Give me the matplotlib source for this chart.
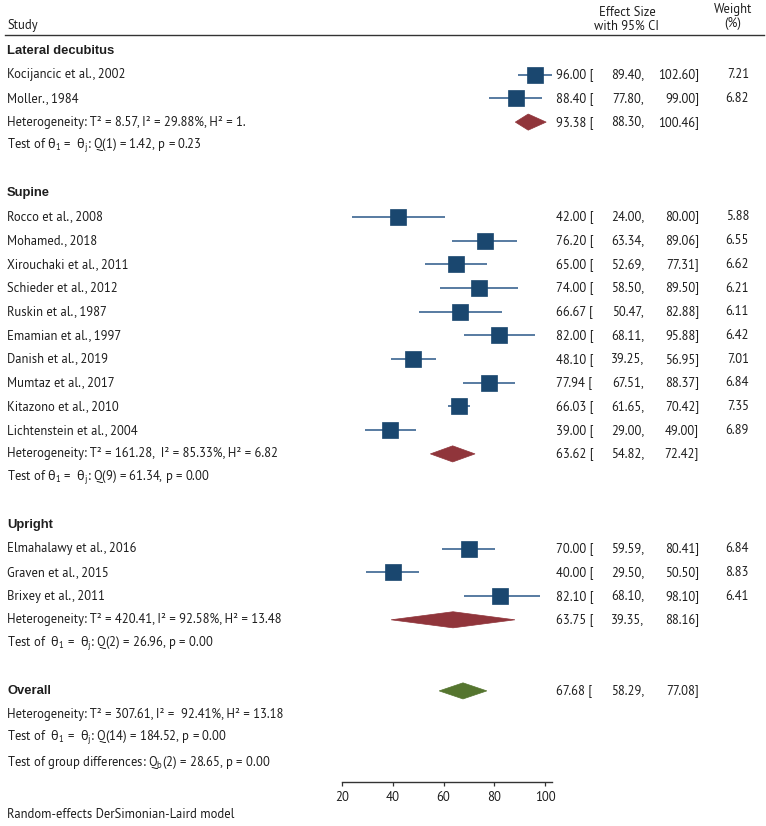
import matplotlib
matplotlib.use("Agg")
import matplotlib.pyplot as plt
from matplotlib.transforms import blended_transform_factory
from matplotlib.patches import Polygon
from matplotlib.lines import Line2D

FONT = "PT Sans"
BOLD = "Liberation Sans"
plt.rcParams['font.family'] = [FONT, 'DejaVu Sans']
plt.rcParams['mathtext.fontset'] = 'custom'
plt.rcParams['mathtext.rm'] = FONT
plt.rcParams['mathtext.it'] = FONT
plt.rcParams['mathtext.sf'] = 'Noto Sans'
plt.rcParams['mathtext.default'] = 'regular'

# ---------------- data ----------------
group_names = ["Lateral decubitus", "Supine", "Upright"]

studies = ["Kocijancic et al., 2002", "Moller., 1984",
           "Rocco et al., 2008", "Mohamed., 2018", "Xirouchaki et al., 2011",
           "Schieder et al., 2012", "Ruskin et al., 1987", "Emamian et al., 1997",
           "Danish et al., 2019", "Mumtaz et al., 2017", "Kitazono et al., 2010",
           "Lichtenstein et al., 2004",
           "Elmahalawy et al., 2016", "Graven et al., 2015", "Brixey et al., 2011"]
study_group = [0, 0, 1, 1, 1, 1, 1, 1, 1, 1, 1, 1, 2, 2, 2]
effect = [96.00, 88.40, 42.00, 76.20, 65.00, 74.00, 66.67, 82.00, 48.10, 77.94,
          66.03, 39.00, 70.00, 40.00, 82.10]
ci_low = [89.40, 77.80, 24.00, 63.34, 52.69, 58.50, 50.47, 68.11, 39.25, 67.51,
          61.65, 29.00, 59.59, 29.50, 68.10]
ci_high = [102.60, 99.00, 80.00, 89.06, 77.31, 89.50, 82.88, 95.88, 56.95, 88.37,
           70.42, 49.00, 80.41, 50.50, 98.10]
# upper CI ends as drawn in the picture (Rocco's line stops near 60.6)
ci_high_drawn = [102.60, 99.00, 60.60, 89.06, 77.31, 89.50, 82.88, 95.88, 56.95, 88.37,
                 70.42, 49.00, 80.41, 50.50, 98.10]
weight = [7.21, 6.82, 5.88, 6.55, 6.62, 6.21, 6.11, 6.42, 7.01, 6.84, 7.35, 6.89,
          6.84, 8.83, 6.41]

group_effect = [93.38, 63.62, 63.75]
group_low = [88.30, 54.82, 39.35]
group_high = [100.46, 72.42, 88.16]
group_het = ["Heterogeneity: T² = 8.57, I² = 29.88%, H² = 1.",
             "Heterogeneity: T² = 161.28,  I² = 85.33%, H² = 6.82",
             "Heterogeneity: T² = 420.41, I² = 92.58%, H² = 13.48"]
TH = r"$\mathsf{θ}_{1}$"
TJ = r"$\mathsf{θ}_{j}$"
group_test = [f"Test of {TH} =  {TJ}: Q(1) = 1.42, p = 0.23",
              f"Test of {TH} =  {TJ}: Q(9) = 61.34, p = 0.00",
              f"Test of  {TH} =  {TJ}: Q(2) = 26.96, p = 0.00"]

overall_effect = 67.68
overall_low = 58.29
overall_high = 77.08
overall_lines = ["Heterogeneity: T² = 307.61, I² =  92.41%, H² = 13.18",
                 f"Test of  {TH} =  {TJ}: Q(14) = 184.52, p = 0.00",
                 "Test of group differences: Q$_{b}$(2) = 28.65, p = 0.00"]

x_ticks = [20, 40, 60, 80, 100]

# ---------------- style ----------------
W, H = 766, 826
C_TEXT = "#1e1e1e"
C_SQ = "#1a476f"
C_LINE = "#4a719a"
C_RED = "#90353b"
C_GREEN = "#55752f"

fig = plt.figure(figsize=(W / 100, H / 100), dpi=100)
renderer = fig.canvas.get_renderer()


def fit_size(s, target_px, **kw):
    t = fig.text(0, 0, s, fontsize=10, **kw)
    w = t.get_window_extent(renderer=renderer).width
    t.remove()
    return 10 * target_px / w


FS = fit_size(overall_lines[0], 275)
FS_BOLD = fit_size(group_names[0], 108, fontweight="bold", family=[BOLD, "DejaVu Sans"])
FS_TICK = fit_size("100", 21)

ROW0 = 51.0    # pixel y of first row
DY = 23.7      # row spacing in pixels
ax_top_px, ax_bot_px = 35.0, 782.0
ax_left_px, ax_right_px = 342.0, 551.6
ax = fig.add_axes([ax_left_px / W, 1 - ax_bot_px / H,
                   (ax_right_px - ax_left_px) / W, (ax_bot_px - ax_top_px) / H])
ax.set_xlim(min(x_ticks), max(ci_high))
ax.set_ylim((ax_bot_px - ROW0) / DY, (ax_top_px - ROW0) / DY)
for s in ["top", "right", "left"]:
    ax.spines[s].set_visible(False)
ax.spines["bottom"].set_color("#333333")
ax.spines["bottom"].set_linewidth(1.0)
ax.set_yticks([])
ax.set_xticks(x_ticks)
ax.tick_params(axis="x", direction="out", length=3, width=0.9, color="#333333",
               pad=3.5, labelsize=FS_TICK, labelcolor=C_TEXT)
ax.patch.set_alpha(0)

tr = blended_transform_factory(fig.transFigure, ax.transData)


def fx(px):
    return px / W


def left_text(row, s, bold=False):
    if bold:
        ax.text(fx(7), row, s, transform=tr, ha="left", va="center",
                fontsize=FS_BOLD, fontweight="bold", family=[BOLD, "DejaVu Sans"],
                color=C_TEXT, clip_on=False)
    else:
        ax.text(fx(7), row, s, transform=tr, ha="left", va="center",
                fontsize=FS, color=C_TEXT, clip_on=False)


def stats_text(row, es, lo, hi, w=None):
    ax.text(fx(556), row, f"{es:.2f} [", transform=tr, ha="left", va="center",
            fontsize=FS, color=C_TEXT, clip_on=False)
    ax.text(fx(644), row, f"{lo:.2f},", transform=tr, ha="right", va="center",
            fontsize=FS, color=C_TEXT, clip_on=False)
    ax.text(fx(699), row, f"{hi:.2f}]", transform=tr, ha="right", va="center",
            fontsize=FS, color=C_TEXT, clip_on=False)
    if w is not None:
        ax.text(fx(749), row, f"{w:.2f}", transform=tr, ha="right", va="center",
                fontsize=FS, color=C_TEXT, clip_on=False)


def diamond(row, es, lo, hi, color):
    h = 0.34
    ax.add_patch(Polygon([(lo, row), (es, row - h), (hi, row), (es, row + h)],
                         closed=True, facecolor=color, edgecolor=color, lw=0.5,
                         zorder=3, clip_on=False))


# ---------------- rows ----------------
row = 0
for g, gname in enumerate(group_names):
    left_text(row, gname, bold=True)
    row += 1
    for i, name in enumerate(studies):
        if study_group[i] != g:
            continue
        left_text(row, name)
        ax.hlines(row, ci_low[i], ci_high_drawn[i], color=C_LINE, lw=1.3, zorder=2,
                  clip_on=False)
        ms = 11.6 * (weight[i] / 6.8) ** 0.12
        ax.plot([effect[i]], [row], marker="s", ms=ms, mfc=C_SQ, mec=C_SQ,
                mew=0.5, zorder=3, clip_on=False)
        stats_text(row, effect[i], ci_low[i], ci_high[i], weight[i])
        row += 1
    left_text(row, group_het[g])
    diamond(row, group_effect[g], group_low[g], group_high[g], C_RED)
    stats_text(row, group_effect[g], group_low[g], group_high[g])
    row += 1
    left_text(row, group_test[g])
    row += 2

left_text(row, "Overall", bold=True)
diamond(row, overall_effect, overall_low, overall_high, C_GREEN)
stats_text(row, overall_effect, overall_low, overall_high)
row += 1
for s in overall_lines:
    left_text(row, s)
    row += 1


# ---------------- header / footer ----------------
def fig_text(xpx, ypx, s, ha="left"):
    fig.text(xpx / W, 1 - ypx / H, s, ha=ha, va="center", fontsize=FS, color=C_TEXT)


fig_text(7, 26, "Study")
fig_text(627, 12, "Effect Size", ha="center")
fig_text(627, 26, "with 95% CI", ha="center")
fig_text(733, 9, "Weight", ha="center")
fig_text(733, 24, "(%)", ha="center")
fig.add_artist(Line2D([5 / W, 764 / W], [1 - 35 / H, 1 - 35 / H],
                      color="#333333", lw=1.0, transform=fig.transFigure))
fig_text(7, 815, "Random-effects DerSimonian-Laird model")

fig.savefig("out.png", dpi=100, facecolor="white")
